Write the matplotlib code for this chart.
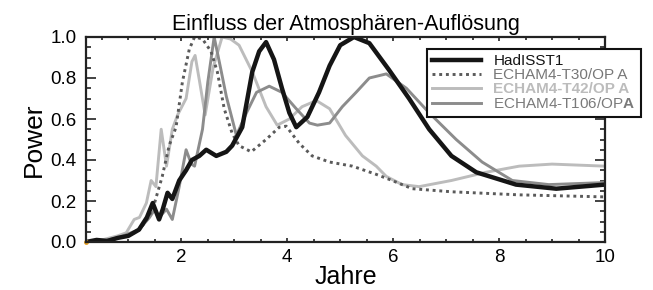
#!/usr/bin/env python3
"""
Power spectra of Nino3 SST for different ECHAM4 atmosphere resolutions.
Saves out.png
"""

import matplotlib.pyplot as plt
from matplotlib.ticker import MultipleLocator

plt.rcParams["font.family"] = ["Liberation Sans", "DejaVu Sans"]
plt.rcParams["mathtext.fontset"] = "custom"
plt.rcParams["mathtext.rm"] = "Liberation Sans"
plt.rcParams["mathtext.bf"] = "Liberation Sans:bold"

# ── Data ──────────────────────────────────────────────────────────────────────

had_x = [0.2, 0.4, 0.6, 0.8, 1.0, 1.2, 1.35, 1.46, 1.52, 1.58, 1.65, 1.74, 1.83,
         1.96, 2.09, 2.2, 2.34, 2.47, 2.66, 2.85, 2.96, 3.15, 3.34, 3.47, 3.6,
         3.75, 3.9, 4.04, 4.17, 4.38, 4.6, 4.8, 5.0, 5.26, 5.55, 5.92, 6.3,
         6.68, 7.1, 7.57, 8.32, 9.08, 10.0]
had_y = [0.0, 0.01, 0.005, 0.02, 0.03, 0.06, 0.12, 0.19, 0.15, 0.11, 0.16, 0.24,
         0.21, 0.30, 0.35, 0.40, 0.42, 0.45, 0.42, 0.44, 0.47, 0.56, 0.83, 0.93,
         0.975, 0.89, 0.75, 0.63, 0.56, 0.61, 0.73, 0.86, 0.96, 1.0, 0.97, 0.84,
         0.70, 0.55, 0.42, 0.34, 0.28, 0.26, 0.28]

t30_x = [0.2, 0.5, 0.8, 1.0, 1.21, 1.35, 1.46, 1.55, 1.64, 1.77, 1.9, 2.02, 2.15,
         2.25, 2.4, 2.56, 2.68, 2.81, 2.96, 3.09, 3.32, 3.6, 3.85, 3.98, 4.23,
         4.47, 4.8, 5.23, 5.68, 5.98, 6.36, 7.1, 8.38, 10.0]
t30_y = [0.0, 0.0, 0.02, 0.03, 0.06, 0.11, 0.16, 0.24, 0.32, 0.47, 0.56, 0.78,
         0.94, 1.0, 0.99, 0.93, 0.83, 0.65, 0.53, 0.47, 0.44, 0.50, 0.56, 0.565,
         0.48, 0.42, 0.39, 0.37, 0.33, 0.30, 0.26, 0.245, 0.23, 0.22]

t42_x = [0.2, 0.5, 0.8, 0.96, 1.11, 1.21, 1.34, 1.43, 1.52, 1.62, 1.72, 1.83,
         1.93, 2.09, 2.2, 2.26, 2.34, 2.45, 2.6, 2.77, 2.93, 3.09, 3.34, 3.6,
         3.81, 4.04, 4.28, 4.55, 4.8, 5.1, 5.42, 5.68, 5.87, 6.17, 6.49, 7.1,
         7.75, 8.38, 9.0, 10.0]
t42_y = [0.0, 0.01, 0.03, 0.045, 0.11, 0.12, 0.19, 0.30, 0.27, 0.55, 0.37, 0.55,
         0.62, 0.70, 0.88, 0.91, 0.79, 0.62, 0.85, 1.0, 0.99, 0.96, 0.83, 0.66,
         0.57, 0.60, 0.66, 0.69, 0.65, 0.52, 0.42, 0.37, 0.32, 0.28, 0.27, 0.30,
         0.34, 0.37, 0.38, 0.37]

t106_x = [0.2, 0.5, 0.8, 1.0, 1.2, 1.4, 1.5, 1.58, 1.65, 1.72, 1.83, 1.96, 2.09,
          2.19, 2.25, 2.4, 2.5, 2.62, 2.74, 2.85, 3.04, 3.23, 3.42, 3.66, 3.9,
          4.17, 4.42, 4.57, 4.8, 5.04, 5.3, 5.55, 5.87, 6.25, 6.68, 7.19, 7.68,
          8.25, 8.94, 10.0]
t106_y = [0.0, 0.005, 0.02, 0.04, 0.06, 0.12, 0.16, 0.12, 0.14, 0.16, 0.11, 0.27,
          0.45, 0.38, 0.37, 0.55, 0.78, 1.0, 0.85, 0.71, 0.52, 0.63, 0.73, 0.76,
          0.73, 0.65, 0.58, 0.57, 0.58, 0.66, 0.73, 0.80, 0.82, 0.75, 0.63, 0.50,
          0.39, 0.30, 0.28, 0.29]

labels = ["HadISST1", "ECHAM4-T30/OP A", "ECHAM4-T42/OP A",
          r"ECHAM4-T106/OP$\mathbf{A}$"]

# ── Plot ──────────────────────────────────────────────────────────────────────

fig = plt.figure(figsize=(6.53, 2.90), dpi=100)
ax = fig.add_axes([86 / 653, 1 - 242 / 290, 519 / 653, 205 / 290])

c_had, c_t30, c_t42, c_t106 = "#151515", "#5a5a5a", "#bcbcbc", "#8c8c8c"

ax.plot(t42_x, t42_y, color=c_t42, lw=2.1, label=labels[2])
ax.plot(t106_x, t106_y, color=c_t106, lw=2.1, label=labels[3])
ax.plot(t30_x, t30_y, color=c_t30, lw=2.1, ls=(0, (1, 1.3)), label=labels[1])
ax.plot(had_x, had_y, color=c_had, lw=3.2, label=labels[0])
ax.plot(0.2, 0.0, "o", color="#e8a020", ms=2.5, clip_on=False)

ax.set_xlim(0.2, 10)
ax.set_ylim(0, 1.0)
ax.xaxis.set_major_locator(MultipleLocator(2))
ax.xaxis.set_minor_locator(MultipleLocator(0.5))
ax.yaxis.set_major_locator(MultipleLocator(0.2))
ax.yaxis.set_minor_locator(MultipleLocator(0.05))
ax.yaxis.set_major_formatter(plt.FormatStrFormatter("%.1f"))

ax.tick_params(which="both", direction="in", top=True, right=True,
               width=1.2, color="#222222", labelsize=13.5)
ax.tick_params(axis="y", which="major", length=7, pad=7)
ax.tick_params(axis="y", which="minor", length=3.5)
ax.tick_params(axis="x", which="major", length=3, pad=5)
ax.tick_params(axis="x", which="minor", length=2)
for s in ax.spines.values():
    s.set_linewidth(1.6)
    s.set_color("#222222")

ax.set_title("Einfluss der Atmosphären-Auflösung", fontsize=15.5, pad=5)
ax.set_xlabel("Jahre", fontsize=18, labelpad=-1)
ax.set_ylabel("Power", fontsize=19, labelpad=3)

h, l = ax.get_legend_handles_labels()
order = [3, 2, 0, 1]
leg = fig.legend([h[i] for i in order], [l[i] for i in order],
                 loc="upper left", bbox_to_anchor=(427 / 653, 1 - 49 / 290),
                 fontsize=11, frameon=True, fancybox=False, framealpha=1,
                 edgecolor="#111111", handlelength=3.2, handletextpad=0.8,
                 labelspacing=0.0, borderpad=0.35, borderaxespad=0)
leg.get_frame().set_linewidth(1.5)
text_cols = [c_had, "#777777", c_t42, "#7a7a7a"]
for t, c in zip(leg.get_texts(), text_cols):
    t.set_color(c)
leg.get_texts()[2].set_fontweight("bold")

fig.savefig("out.png", dpi=100)
plt.close(fig)
